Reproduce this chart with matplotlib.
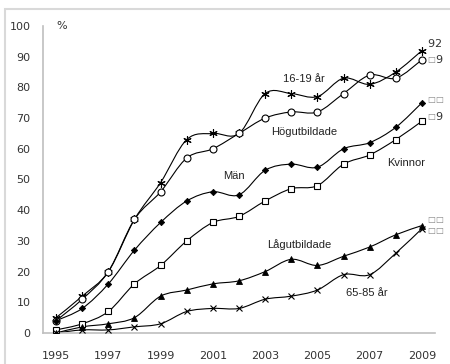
import numpy as np
import matplotlib
matplotlib.use("Agg")
from matplotlib import pyplot as plt
from matplotlib.path import Path
from matplotlib.patches import PathPatch, Rectangle

# data
years = list(range(1995, 2010))
ung = [5, 12, 20, 37, 49, 63, 65, 65, 78, 78, 77, 83, 81, 85, 92]          # 16-19 år
hog = [4, 11, 20, 37, 46, 57, 60, 65, 70, 72, 72, 78, 84, 83, 89]          # Högutbildade
man = [4, 8, 16, 27, 36, 43, 46, 45, 53, 55, 54, 60, 62, 67, 75]           # Män
kvi = [1, 3, 7, 16, 22, 30, 36, 38, 43, 47, 48, 55, 58, 63, 69]            # Kvinnor
lag = [0, 2, 3, 5, 12, 14, 16, 17, 20, 24, 22, 25, 28, 32, 35]             # Lågutbildade
old = [0, 1, 1, 2, 3, 7, 8, 8, 11, 12, 14, 19, 19, 26, 34]                 # 65-85 år

end_labels = ["92", "\u25a19", "\u25a1\u25a1", "\u25a19", "\u25a1\u25a1", "\u25a1\u25a1"]


def smooth_path(x, y):
    # excel-like smoothed line (catmull-rom -> bezier)
    x = np.asarray(x, float)
    y = np.asarray(y, float)
    verts = [(x[0], y[0])]
    codes = [Path.MOVETO]
    n = len(x)
    for i in range(n - 1):
        i0 = max(i - 1, 0)
        i3 = min(i + 2, n - 1)
        c1 = (x[i] + (x[i + 1] - x[i0]) / 6, y[i] + (y[i + 1] - y[i0]) / 6)
        c2 = (x[i + 1] - (x[i3] - x[i]) / 6, y[i + 1] - (y[i3] - y[i]) / 6)
        verts += [c1, c2, (x[i + 1], y[i + 1])]
        codes += [Path.CURVE4] * 3
    return Path(verts, codes)


fig = plt.figure(figsize=(4.5, 3.64), dpi=100)
ax = fig.add_axes([0.0956, 0.0852, 0.8711, 0.8434])

series = [
    (ung, dict(marker=(6, 2, 0), ms=6, mfc="black", mew=0.8)),
    (hog, dict(marker="o", ms=5, mfc="white", mew=0.8)),
    (man, dict(marker="D", ms=3.2, mfc="black", mew=0.6)),
    (kvi, dict(marker="s", ms=5, mfc="white", mew=0.8)),
    (lag, dict(marker="^", ms=4.5, mfc="black", mew=0.6)),
    (old, dict(marker="x", ms=5, mfc="black", mew=0.8)),
]
for vals, st in series:
    ax.add_patch(PathPatch(smooth_path(years, vals), fill=False, ec="black", lw=0.8, zorder=2))
    ax.plot(years, vals, ls="none", mec="black", zorder=3, **st)

# end value labels (boxes are small, digits normal size)
lab_y = [94, 89, 76, 70.5, 37, 33.5]
for t, yy in zip(end_labels, lab_y):
    xoff = 0
    for ch in t:
        small = ch == "\u25a1"
        ax.annotate(ch, (2009.2, yy), xytext=(xoff, 0), textcoords="offset points",
                    fontsize=6 if small else 8, color="#888888" if small else "#333333",
                    va="center", ha="left", family="DejaVu Sans", annotation_clip=False)
        xoff += 5.5 if small else 5.1

# series names
lab_font = dict(fontsize=8, family="Liberation Sans", color="#222222", ha="center", va="center")
ax.text(2004.5, 82.7, "16-19 år", **lab_font)
ax.text(2004.5, 65.5, "Högutbildade", **lab_font)
ax.text(2001.8, 51, "Män", **lab_font)
ax.text(2008.4, 55.4, "Kvinnor", **lab_font)
ax.text(2004.3, 28.7, "Lågutbildade", **lab_font)
ax.text(2006.9, 13, "65-85 år", **lab_font)
ax.text(1995.2, 100, "%", fontsize=8, family="DejaVu Sans", color="#333333", ha="center", va="center")

ax.set_xlim(1994.5, 2009.5)
ax.set_ylim(0, 100)
ax.set_xticks(range(1995, 2010, 2))
ax.set_yticks(range(0, 101, 10))
ax.tick_params(length=0, labelsize=8, colors="#333333")
ax.tick_params(axis="x", pad=13)
ax.tick_params(axis="y", pad=9)
for s in ["top", "right"]:
    ax.spines[s].set_visible(False)
for s in ["left", "bottom"]:
    ax.spines[s].set_color("#bfbfbf")
    ax.spines[s].set_linewidth(1.2)

# outer chart border
fig.patches.append(Rectangle((5 / 450, -0.1), 1.0, (355 / 364) + 0.1, transform=fig.transFigure,
                             fill=False, ec="#d9d9d9", lw=1.5))

fig.savefig("out.png", dpi=100)
